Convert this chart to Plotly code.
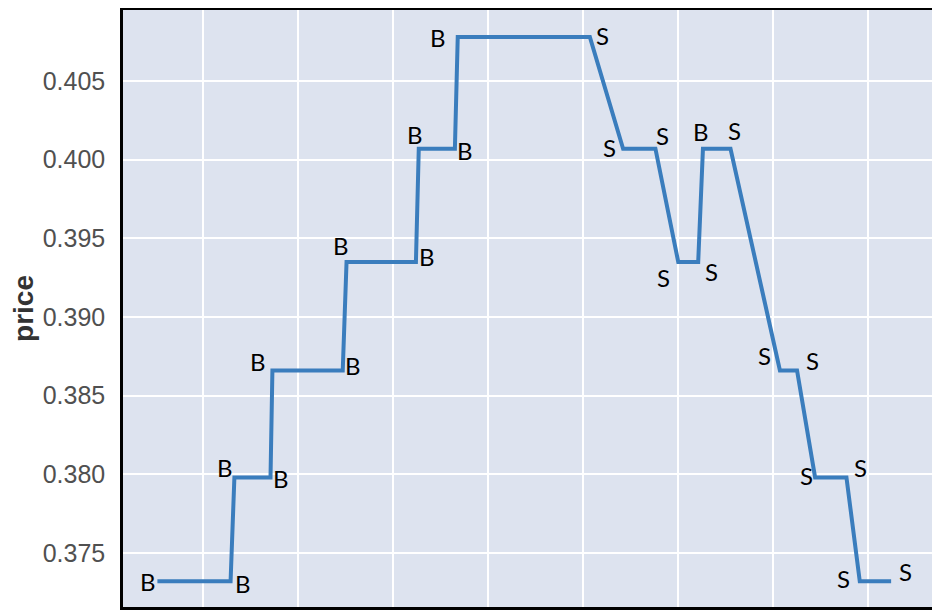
import plotly.graph_objects as go

# time steps (arbitrary units, grid every 10)
t = [5.2, 12.9, 13.3, 17.1, 17.3, 24.7, 25.1, 32.4, 32.7, 36.5, 36.8, 50.7,
     54.2, 57.6, 60.0, 62.1, 62.6, 65.5, 70.7, 72.5, 74.4, 77.7, 79.1, 82.4]
price = [0.3732, 0.3732, 0.3798, 0.3798, 0.3866, 0.3866, 0.3935, 0.3935,
         0.4007, 0.4007, 0.4078, 0.4078, 0.4007, 0.4007, 0.3935, 0.3935,
         0.4007, 0.4007, 0.3866, 0.3866, 0.3798, 0.3798, 0.3732, 0.3732]
side = ["B", "B", "B", "B", "B", "B", "B", "B", "B", "B", "B", "S",
        "S", "S", "S", "S", "B", "S", "S", "S", "S", "S", "S", "S"]

# pixel offsets of each B/S label from its point (right, down)
label_off = [(-9, 0), (12, 2), (-9, -10), (10, 1), (-14, -9), (10, -5),
             (-6, -16), (11, -5), (-4, -14), (10, 2), (-20, 0), (13, -2),
             (-14, -1), (7, -13), (-15, 16), (13, 10), (-2, -17), (4, -18),
             (-15, -15), (15, -10), (-9, -2), (14, -10), (-16, -3), (14, -10)]

fig = go.Figure()
fig.add_trace(go.Scatter(
    x=t, y=price, mode="lines",
    line=dict(color="#3a7dbd", width=4),
    showlegend=False))

for xi, yi, s, (dx, dy) in zip(t, price, side, label_off):
    fig.add_annotation(x=xi, y=yi, text=s, showarrow=False,
                       xshift=dx, yshift=-dy,
                       font=dict(family="Lato, Noto Sans, sans-serif",
                                 size=24, color="black"))

sans = "Liberation Sans, Arial, sans-serif"
# page body has an 8px default margin, so margins are shifted to compensate
fig.update_layout(
    width=940, height=611,
    margin=dict(l=115, r=16, t=2, b=12),
    paper_bgcolor="white",
    plot_bgcolor="#dde3ef",
    font=dict(family=sans),
    xaxis=dict(range=[1.58, 86.7], dtick=10, tick0=0, showticklabels=False,
               showgrid=True, gridcolor="white", gridwidth=2, zeroline=False,
               automargin=False,
               showline=True, linecolor="black", linewidth=2.5, mirror=True),
    yaxis=dict(range=[0.37156, 0.40952], dtick=0.005, tick0=0.375,
               tickformat=".3f", showgrid=True, gridcolor="white", gridwidth=2,
               zeroline=False, ticks="", automargin=False,
               ticklabelstandoff=10,
               tickfont=dict(family=sans, size=25, color="#505050"),
               title=dict(text="<b>price</b>",
                          font=dict(family=sans, size=28, color="#333333"),
                          standoff=10),
               showline=True, linecolor="black", linewidth=2.5, mirror=True),
)

fig.write_html("out.html")
